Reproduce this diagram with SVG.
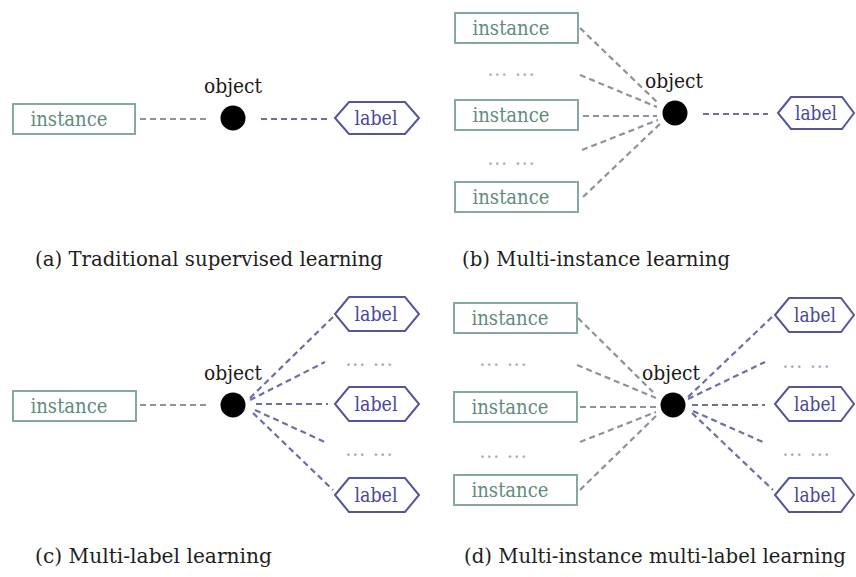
<svg xmlns="http://www.w3.org/2000/svg" width="856" height="577" viewBox="0 0 856 577">
<style>
  text { font-family: "DejaVu Serif", serif; }
  .inst rect { fill: #ffffff; stroke: #86a89e; stroke-width: 2; }
  .inst text { font-size: 21px; fill: #5f8c80; text-anchor: middle; }
  .lab polygon { fill: #ffffff; stroke: #55559f; stroke-width: 2; }
  .lab text { font-size: 21px; fill: #48489a; text-anchor: middle; }
  .obj circle { fill: #000000; }
  .obj text { font-size: 21px; fill: #1a1a1a; text-anchor: middle; }
  .dots { font-size: 14px; font-weight: bold; fill: #a8b0ae; text-anchor: middle; letter-spacing: 2px; }
  .dotsl { font-size: 14px; font-weight: bold; fill: #a4a4c0; text-anchor: middle; letter-spacing: 2px; }
  .cap { font-size: 21px; fill: #1e1e1e; }
  .ci { stroke: #8e929a; stroke-width: 2.2; stroke-dasharray: 6 4; fill: none; }
  .cl { stroke: #6e6eaa; stroke-width: 2.2; stroke-dasharray: 6 4; fill: none; }
</style>

<g id="connectors">
  <line class="ci" x1="140" y1="119" x2="207" y2="119"/>
  <line class="cl" x1="261" y1="119" x2="327" y2="119"/>
  <line class="ci" x1="580" y1="28" x2="658" y2="103"/>
  <line class="ci" x1="580" y1="75" x2="657" y2="107"/>
  <line class="ci" x1="583" y1="116" x2="657" y2="116"/>
  <line class="ci" x1="582" y1="150" x2="658" y2="120"/>
  <line class="ci" x1="583" y1="197" x2="662" y2="122"/>
  <line class="cl" x1="703" y1="114" x2="768" y2="114"/>
  <line class="ci" x1="140" y1="405" x2="207" y2="405"/>
  <line class="cl" x1="250" y1="398" x2="333" y2="317"/>
  <line class="cl" x1="250" y1="400" x2="325" y2="362"/>
  <line class="cl" x1="256" y1="404" x2="328" y2="404"/>
  <line class="cl" x1="255" y1="410" x2="327" y2="443"/>
  <line class="cl" x1="253" y1="413" x2="333" y2="490"/>
  <line class="ci" x1="578" y1="318" x2="653" y2="392"/>
  <line class="ci" x1="577" y1="365" x2="656" y2="398"/>
  <line class="ci" x1="580" y1="407" x2="656" y2="407"/>
  <line class="ci" x1="580" y1="442" x2="656" y2="412"/>
  <line class="ci" x1="580" y1="490" x2="658" y2="414"/>
  <line class="cl" x1="688" y1="397" x2="772" y2="317"/>
  <line class="cl" x1="688" y1="399" x2="765" y2="362"/>
  <line class="cl" x1="692" y1="405" x2="765" y2="405"/>
  <line class="cl" x1="693" y1="411" x2="765" y2="443"/>
  <line class="cl" x1="692" y1="413" x2="773" y2="490"/>
</g>

<!-- (a) -->
<g id="a-instance" class="inst">
  <rect x="13" y="104" width="122" height="30"/>
  <text x="69" y="126" textLength="77" lengthAdjust="spacingAndGlyphs">instance</text>
</g>
<g id="a-object" class="obj">
  <circle cx="233" cy="118" r="12.5"/>
  <text x="233" y="93" textLength="58" lengthAdjust="spacingAndGlyphs">object</text>
</g>
<g id="a-label" class="lab">
  <polygon points="335,118 349,102 405,102 419,118 405,134 349,134"/>
  <text x="376" y="125" textLength="43" lengthAdjust="spacingAndGlyphs">label</text>
</g>

<!-- (b) -->
<g id="b-instance1" class="inst">
  <rect x="455" y="13" width="123" height="30"/>
  <text x="511" y="35" textLength="77" lengthAdjust="spacingAndGlyphs">instance</text>
</g>
<text class="dots" x="512" y="76">... ...</text>
<g id="b-instance2" class="inst">
  <rect x="455" y="100" width="123" height="30"/>
  <text x="511" y="122" textLength="77" lengthAdjust="spacingAndGlyphs">instance</text>
</g>
<text class="dots" x="512" y="165">... ...</text>
<g id="b-instance3" class="inst">
  <rect x="455" y="182" width="123" height="30"/>
  <text x="511" y="204" textLength="77" lengthAdjust="spacingAndGlyphs">instance</text>
</g>
<g id="b-object" class="obj">
  <circle cx="675" cy="113" r="12.5"/>
  <text x="674" y="88" textLength="58" lengthAdjust="spacingAndGlyphs">object</text>
</g>
<g id="b-label" class="lab">
  <polygon points="778,113 791,97 842,97 854,113 842,129 791,129"/>
  <text x="816" y="120" textLength="42" lengthAdjust="spacingAndGlyphs">label</text>
</g>

<!-- (c) -->
<g id="c-instance" class="inst">
  <rect x="13" y="391" width="123" height="30"/>
  <text x="69" y="413" textLength="77" lengthAdjust="spacingAndGlyphs">instance</text>
</g>
<g id="c-object" class="obj">
  <circle cx="233" cy="405" r="12.5"/>
  <text x="233" y="380" textLength="58" lengthAdjust="spacingAndGlyphs">object</text>
</g>
<g id="c-label1" class="lab">
  <polygon points="335,314 349,297 405,297 419,314 405,331 349,331"/>
  <text x="376" y="321" textLength="43" lengthAdjust="spacingAndGlyphs">label</text>
</g>
<text class="dotsl" x="370" y="366">... ...</text>
<g id="c-label2" class="lab">
  <polygon points="335,404 349,387 405,387 419,404 405,421 349,421"/>
  <text x="376" y="411" textLength="43" lengthAdjust="spacingAndGlyphs">label</text>
</g>
<text class="dotsl" x="370" y="456">... ...</text>
<g id="c-label3" class="lab">
  <polygon points="335,495 349,478 405,478 419,495 405,512 349,512"/>
  <text x="376" y="502" textLength="43" lengthAdjust="spacingAndGlyphs">label</text>
</g>

<!-- (d) -->
<g id="d-instance1" class="inst">
  <rect x="454" y="303" width="123" height="30"/>
  <text x="510" y="325" textLength="77" lengthAdjust="spacingAndGlyphs">instance</text>
</g>
<text class="dots" x="504" y="366">... ...</text>
<g id="d-instance2" class="inst">
  <rect x="454" y="392" width="123" height="30"/>
  <text x="510" y="414" textLength="77" lengthAdjust="spacingAndGlyphs">instance</text>
</g>
<text class="dots" x="504" y="458">... ...</text>
<g id="d-instance3" class="inst">
  <rect x="454" y="475" width="123" height="30"/>
  <text x="510" y="497" textLength="77" lengthAdjust="spacingAndGlyphs">instance</text>
</g>
<g id="d-object" class="obj">
  <circle cx="673" cy="405" r="12.5"/>
  <text x="671" y="380" textLength="58" lengthAdjust="spacingAndGlyphs">object</text>
</g>
<g id="d-label1" class="lab">
  <polygon points="775,315 789,298 841,298 854,315 841,332 789,332"/>
  <text x="815" y="322" textLength="42" lengthAdjust="spacingAndGlyphs">label</text>
</g>
<text class="dotsl" x="807" y="368">... ...</text>
<g id="d-label2" class="lab">
  <polygon points="775,404 789,387 841,387 854,404 841,421 789,421"/>
  <text x="815" y="411" textLength="42" lengthAdjust="spacingAndGlyphs">label</text>
</g>
<text class="dotsl" x="807" y="456">... ...</text>
<g id="d-label3" class="lab">
  <polygon points="775,495 789,478 841,478 854,495 841,512 789,512"/>
  <text x="815" y="502" textLength="42" lengthAdjust="spacingAndGlyphs">label</text>
</g>

<!-- captions -->
<text class="cap" x="35" y="266" textLength="348" lengthAdjust="spacingAndGlyphs">(a) Traditional supervised learning</text>
<text class="cap" x="462" y="266" textLength="268" lengthAdjust="spacingAndGlyphs">(b) Multi-instance learning</text>
<text class="cap" x="35" y="563" textLength="237" lengthAdjust="spacingAndGlyphs">(c) Multi-label learning</text>
<text class="cap" x="846" y="563" text-anchor="end" textLength="382" lengthAdjust="spacingAndGlyphs">(d) Multi-instance multi-label learning</text>
</svg>
